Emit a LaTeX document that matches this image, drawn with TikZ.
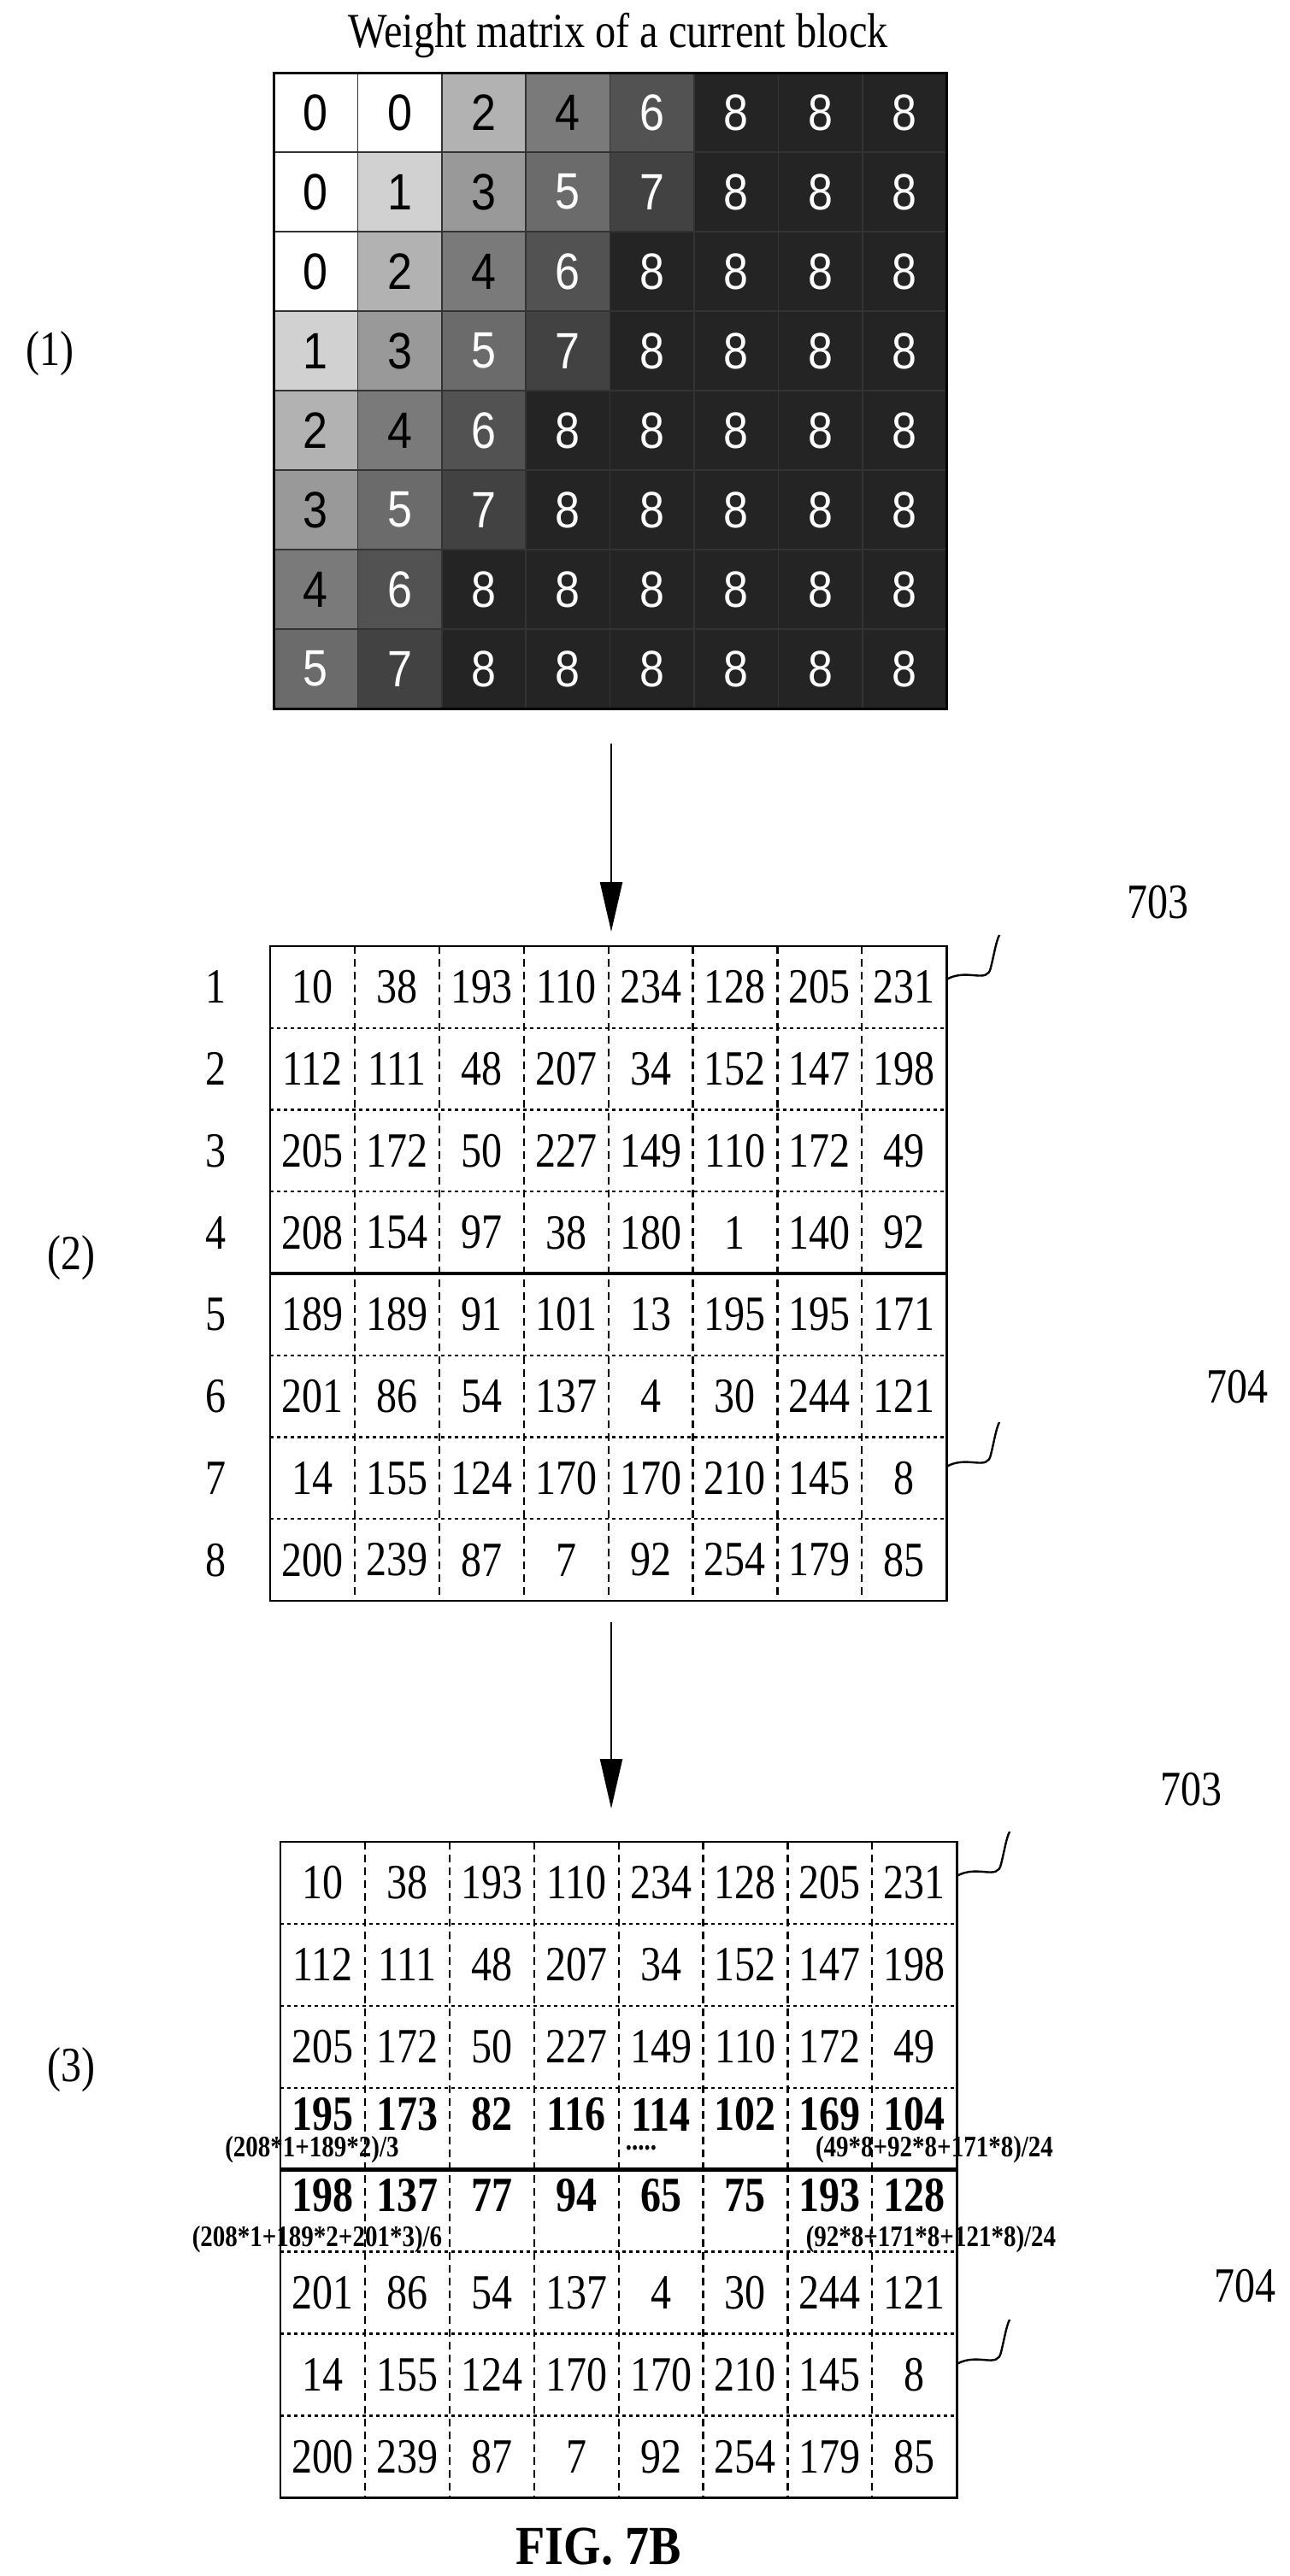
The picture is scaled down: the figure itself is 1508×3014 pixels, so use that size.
\documentclass[tikz,border=0pt]{standalone}
\usepackage{fontspec}
\setmainfont{Liberation Serif}
\newfontfamily\arialfont{Liberation Sans}
\usetikzlibrary{arrows.meta}
\tikzset{
  big/.style={font=\fontsize{48}{48}\selectfont, yscale=1.2},
  wnum/.style={font=\arialfont\fontsize{52}{52}\selectfont, yscale=1.15},
  bnum/.style={font=\fontsize{48}{48}\selectfont\bfseries, yscale=1.2},
  frm/.style={font=\fontsize{29}{29}\selectfont\bfseries, inner sep=0pt, yscale=1.2},
  vsep/.style={line width=2.2pt, dash pattern=on 9pt off 6pt},
  hsep/.style={line width=2.4pt, dash pattern=on 4pt off 4pt},
  down/.style={-{Triangle[length=58pt,width=26pt]}, line width=2.2pt},
}
\newcommand{\squig}[2]{% curly mark from block corner
  \draw[line width=2.4pt] (#1,#2) .. controls (#1+25,#2-14) and (#1+48,#2+6) .. (#1+52,#2-14)
    .. controls (#1+56,#2-30) and (#1+58,#2-44) .. (#1+62,#2-52);}

\begin{document}
\begin{tikzpicture}[x=1pt,y=-1pt]
  \useasboundingbox (0,0) rectangle (1508,3014);

  % (1) weight matrix
  \node[font=\fontsize{52}{52}\selectfont, xscale=0.93, yscale=1.1] (title) at (723,42) {Weight matrix of a current block};
  \node[big] (lab1) at (58,414) {(1)};
  \def\wx{320}\def\wy{85}\def\cw{98.4}\def\ch{93}
  \foreach \row [count=\r from 0] in {{0,0,2,4,6,8,8,8},{0,1,3,5,7,8,8,8},{0,2,4,6,8,8,8,8},{1,3,5,7,8,8,8,8},
      {2,4,6,8,8,8,8,8},{3,5,7,8,8,8,8,8},{4,6,8,8,8,8,8,8},{5,7,8,8,8,8,8,8}}{
    \foreach \v [count=\c from 0] in \row {
      \pgfmathsetmacro{\shade}{{0,18,30,40,52,58,68,74,86}[\v]}
      \pgfmathsetmacro{\tc}{\v>4 ? 1 : 0}
      \fill[black!\shade] (\wx+\c*\cw,\wy+\r*\ch) rectangle ++(\cw,\ch);
      \draw[black!80, line width=1.5pt] (\wx+\c*\cw,\wy+\r*\ch) rectangle ++(\cw,\ch);
      \ifnum\tc=1
        \node[wnum, white] (w-\r-\c) at (\wx+\c*\cw+0.5*\cw,\wy+\r*\ch+0.5*\ch) {\v};
      \else
        \node[wnum] (w-\r-\c) at (\wx+\c*\cw+0.5*\cw,\wy+\r*\ch+0.5*\ch) {\v};
      \fi
    }
  }
  \draw[line width=3pt] (320,85) rectangle (1107,829);

  % arrow to (2)
  \coordinate (a1s) at (715,870);
  \coordinate (a1e) at (715,1090);
  \draw[down] (a1s) -- (a1e);

  % (2) block with row indices
  \def\mx{316}\def\my{1107}\def\mw{98.9}\def\mh{95.75}
  \node[big] (lab2) at (83,1472) {(2)};
  \foreach \row [count=\r from 0] in {{10,38,193,110,234,128,205,231},{112,111,48,207,34,152,147,198},
      {205,172,50,227,149,110,172,49},{208,154,97,38,180,1,140,92},{189,189,91,101,13,195,195,171},
      {201,86,54,137,4,30,244,121},{14,155,124,170,170,210,145,8},{200,239,87,7,92,254,179,85}}{
    \pgfmathtruncatemacro{\rl}{\r+1}
    \node[big] (ri-\r) at (252,\my+\r*\mh+0.5*\mh) {\rl};
    \foreach \v [count=\c from 0] in \row
      \node[big] (b-\r-\c) at (\mx+\c*\mw+0.5*\mw,\my+\r*\mh+0.5*\mh) {\v};
  }
  \foreach \c in {1,...,7} \draw[vsep] (\mx+\c*\mw,\my) -- (\mx+\c*\mw,\my+8*\mh);
  \foreach \r in {1,2,3,5,6,7} \draw[hsep] (\mx,\my+\r*\mh) -- (\mx+8*\mw,\my+\r*\mh);
  \draw[line width=4.5pt] (\mx,\my+4*\mh) -- (\mx+8*\mw,\my+4*\mh);
  \draw[line width=2.8pt] (\mx,\my) rectangle (\mx+8*\mw,\my+8*\mh);
  \squig{1107}{1146}
  \squig{1107}{1716}
  \node[big] (n703a) at (1354,1056) {703};
  \node[big] (n704a) at (1447,1623) {704};

  % arrow to (3)
  \coordinate (a2s) at (715,1898);
  \coordinate (a2e) at (715,2116);
  \draw[down] (a2s) -- (a2e);

  % (3) weighted block
  \def\nx{328}\def\ny{2155}\def\nw{98.9}\def\nh{95.9}
  \node[big] (lab3) at (83,2422) {(3)};
  \foreach \row [count=\r from 0] in {{10,38,193,110,234,128,205,231},{112,111,48,207,34,152,147,198},
      {205,172,50,227,149,110,172,49},{},{},
      {201,86,54,137,4,30,244,121},{14,155,124,170,170,210,145,8},{200,239,87,7,92,254,179,85}}{
    \foreach \v [count=\c from 0] in \row
      \node[big] (c-\r-\c) at (\nx+\c*\nw+0.5*\nw,\ny+\r*\nh+0.5*\nh) {\v};
  }
  \foreach \v [count=\c from 0] in {195,173,82,116,114,102,169,104}
    \node[bnum] (p-\c) at (\nx+\c*\nw+0.5*\nw,2474) {\v};
  \foreach \v [count=\c from 0] in {198,137,77,94,65,75,193,128}
    \node[bnum] (q-\c) at (\nx+\c*\nw+0.5*\nw,2569) {\v};
  \node[frm] (f1) at (365,2515) {(208*1+189*2)/3};
  \node[frm] (f2) at (750,2513) {.....};
  \node[frm] (f3) at (1093,2515) {(49*8+92*8+171*8)/24};
  \node[frm] (f4) at (371,2620) {(208*1+189*2+201*3)/6};
  \node[frm] (f5) at (1089,2620) {(92*8+171*8+121*8)/24};
  \foreach \c in {1,...,7} \draw[vsep] (\nx+\c*\nw,\ny) -- (\nx+\c*\nw,\ny+8*\nh);
  \foreach \r in {1,2,3,5,6,7} \draw[hsep] (\nx,\ny+\r*\nh) -- (\nx+8*\nw,\ny+\r*\nh);
  \draw[line width=4.5pt] (\nx,\ny+4*\nh) -- (\nx+8*\nw,\ny+4*\nh);
  \draw[line width=2.8pt] (\nx,\ny) rectangle (\nx+8*\nw,\ny+8*\nh);
  \squig{1119}{2195}
  \squig{1119}{2766}
  \node[big] (n703b) at (1393,2094) {703};
  \node[big] (n704b) at (1456,2675) {704};

  \node[font=\fontsize{56}{56}\selectfont\bfseries, yscale=1.15] (fig) at (700,2980) {FIG. 7B};
\end{tikzpicture}
\end{document}
